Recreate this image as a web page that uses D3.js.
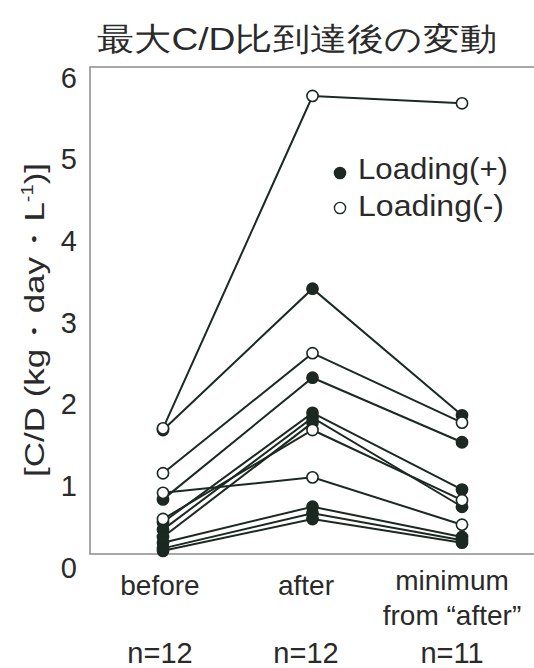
<!DOCTYPE html>
<html>
<head>
<meta charset="utf-8">
<script src="https://cdn.jsdelivr.net/npm/d3@7"></script>
<style>
  body { margin: 0; background: #fff; }
  text { font-family: "Liberation Sans", Arial, sans-serif; fill: #2a2a2a; }
</style>
</head>
<body>
<div id="divChart"></div>
<script>
// data
const categories = ['before', 'after', 'minimum'];
const categoryLines = [['before'], ['after'], ['minimum', 'from “after”']];
const nLabels = ['n=12', 'n=12', 'n=11'];
const yTicks = [0, 1, 2, 3, 4, 5, 6];

// one entry per subject; loading true = filled dot
const loading   = [false, true, false, true, false, false, true, true, true, true, true, true];
const beforeVal = [1.71, 1.69, 1.16, 0.84, 0.92, 0.60, 0.56, 0.47, 0.38, 0.31, 0.24, 0.21];
const afterVal  = [5.78, 3.42, 2.63, 2.33, 1.11, 1.69, 1.90, 1.84, 1.78, 0.75, 0.67, 0.60];
const minVal    = [5.69, 1.87, 1.78, 1.54, 0.53, 0.83, 0.96, 0.75, null, 0.38, 0.34, 0.31];

const width = 534, height = 668;
const frame = { left: 90, top: 67, bottom: 554 };
const ink = '#1c2822';

const svg = d3.select('#divChart')
  .append('svg')
  .attr('width', width)
  .attr('height', height);

const x = d3.scalePoint().domain(categories).range([163, 462]);
const xLabel = d3.scalePoint().domain(categories).range([160, 452]);
const y = d3.scaleLinear().domain([0, 6]).range([568, 78]);

// frame (left, top, bottom; the right side runs off the picture)
svg.append('path')
  .attr('d', `M${width + 5},${frame.top}H${frame.left}V${frame.bottom}H${width + 5}`)
  .attr('fill', 'none')
  .attr('stroke', '#8c8c8c')
  .attr('stroke-width', 1.5);

// y axis labels, no ticks
const yAxis = svg.append('g')
  .attr('transform', 'translate(77,0)')
  .call(d3.axisLeft(y).tickValues(yTicks).tickSize(0).tickPadding(0).tickFormat(d3.format('d')));
yAxis.select('.domain').remove();
yAxis.selectAll('text')
  .attr('font-family', '"Liberation Sans", Arial, sans-serif')
  .attr('font-size', 29)
  .attr('fill', '#2a2a2a');

// series
const subjects = beforeVal.map((b, i) => ({
  filled: loading[i],
  pts: [[categories[0], b], [categories[1], afterVal[i]], [categories[2], minVal[i]]]
    .filter(p => p[1] !== null)
}));

const line = d3.line().x(d => x(d[0])).y(d => y(d[1]));

svg.append('g').selectAll('path')
  .data(subjects)
  .enter()
  .append('path')
  .attr('d', d => line(d.pts))
  .attr('fill', 'none')
  .attr('stroke', ink)
  .attr('stroke-width', 2);

const dots = subjects.flatMap(s => s.pts.map(p => ({ c: p[0], v: p[1], filled: s.filled })));
// draw filled dots first so the open ones sit on top
dots.sort((a, b) => a.filled === b.filled ? 0 : a.filled ? -1 : 1);

svg.append('g').selectAll('circle')
  .data(dots)
  .enter()
  .append('circle')
  .attr('cx', d => x(d.c))
  .attr('cy', d => y(d.v))
  .attr('r', 5.6)
  .attr('fill', d => d.filled ? ink : '#fff')
  .attr('stroke', ink)
  .attr('stroke-width', 1.6);

// category labels
categories.forEach((c, i) => {
  const t = svg.append('text')
    .attr('x', xLabel(c))
    .attr('text-anchor', 'middle')
    .attr('font-size', 28);
  if (categoryLines[i].length === 1) {
    t.attr('y', 595).text(categoryLines[i][0]);
  } else {
    t.attr('y', 590);
    categoryLines[i].forEach((s, k) => {
      t.append('tspan').attr('x', xLabel(c)).attr('dy', k === 0 ? 0 : 35).text(s);
    });
  }
  svg.append('text')
    .attr('x', xLabel(c))
    .attr('y', 663)
    .attr('text-anchor', 'middle')
    .attr('font-size', 29)
    .text(nLabels[i]);
});

// legend
const legend = svg.append('g');
[[true, 'Loading(+)', 173, 179], [false, 'Loading(-)', 208, 216]].forEach(([f, label, cy, by]) => {
  legend.append('circle')
    .attr('cx', 340).attr('cy', cy).attr('r', 5.6)
    .attr('fill', f ? ink : '#fff')
    .attr('stroke', ink).attr('stroke-width', 1.4);
  legend.append('text')
    .attr('x', 358).attr('y', by)
    .attr('font-size', 30)
    .attr('textLength', label === 'Loading(+)' ? 150 : 146)
    .attr('lengthAdjust', 'spacingAndGlyphs')
    .text(label);
});

// title
svg.append('text')
  .attr('x', 297)
  .attr('y', 50)
  .attr('text-anchor', 'middle')
  .attr('font-family', '"Noto Sans CJK JP", sans-serif')
  .attr('font-size', 32)
  .attr('textLength', 400)
  .attr('lengthAdjust', 'spacingAndGlyphs')
  .text('最大C/D比到達後の変動');

// y axis title
const yTitle = svg.append('text')
  .attr('transform', 'translate(44,320) rotate(-90) scale(1.25,1)')
  .attr('text-anchor', 'middle')
  .attr('font-size', 28);
yTitle.append('tspan').text('[C/D (kg・day・L');
yTitle.append('tspan').attr('font-size', 16).attr('dy', -11).text('-1');
yTitle.append('tspan').attr('dy', 11).text(')]');
</script>
</body>
</html>
